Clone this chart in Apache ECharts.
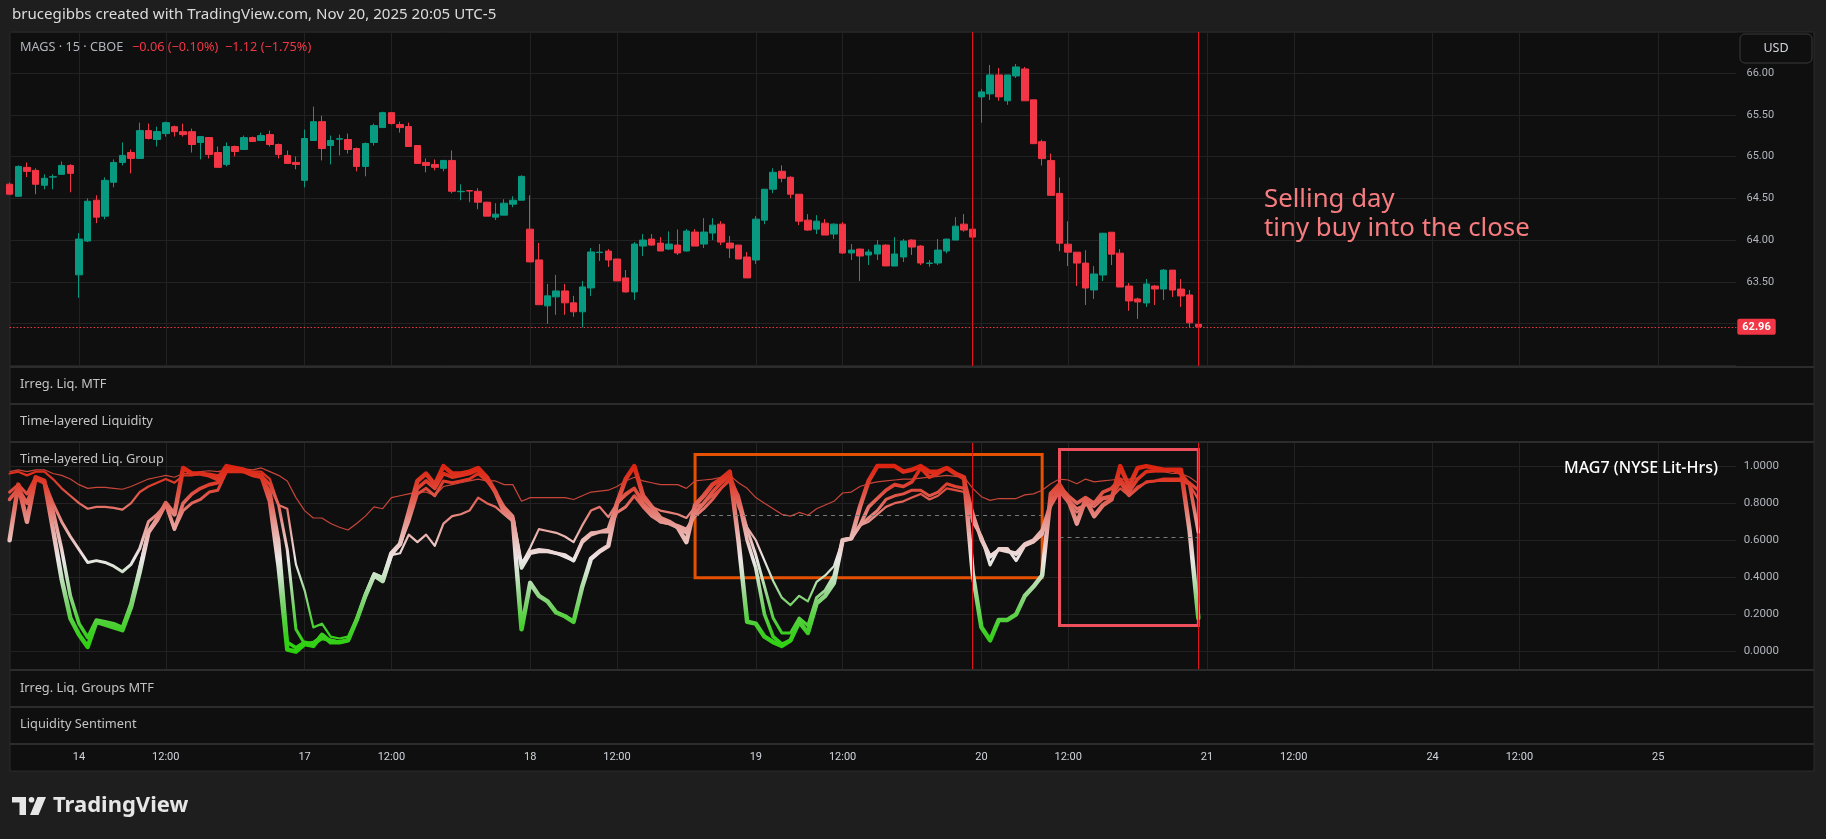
<!DOCTYPE html>
<html><head><meta charset="utf-8">
<script src="https://cdn.jsdelivr.net/npm/echarts@6/dist/echarts.min.js"></script>
<style>html,body{margin:0;padding:0;background:#1e1e1e;}#c{width:1826px;height:839px;}</style>
</head><body><div id="c"></div>
<script>
// ---------- time axis (15-minute bars, regular session) ----------
const sessionDays = ['13','14','17','18','19','20','21','24','25'];
const sessionFrom = [18,0,0,0,0,0,0,0,0];
const sessionTo   = [25,25,25,25,25,25,25,25,9];

// ---------- MAGS 15m OHLC ----------
const open = [64.67,64.525,64.872,64.836,64.657,64.755,64.788,64.895,63.583,63.988,
64.478,64.287,64.693,64.931,65.05,64.979,65.313,65.206,65.277,65.36,
65.3,65.3,65.17,65.23,65.05,64.907,65.122,65.086,65.229,65.194,
65.265,65.146,65.015,64.931,64.716,65.194,65.42,65.134,65.21,65.206,
65.098,64.883,65.17,65.349,65.528,65.385,65.361,65.134,64.931,64.907,
64.86,64.955,64.58,64.593,64.585,64.454,64.275,64.299,64.43,64.478,
64.131,63.762,63.211,63.319,63.39,63.247,63.14,63.426,63.85,63.868,
63.773,63.546,63.378,63.928,64.012,63.964,63.892,63.94,63.869,64.096,
63.952,64.084,64.191,63.964,63.94,63.797,63.761,64.239,64.61,64.825,
64.753,64.55,64.239,64.131,64.203,64.072,64.191,63.845,63.892,63.821,
63.833,63.94,63.689,63.797,64.0,63.928,63.72,63.725,63.869,64.0,
64.191,64.131,65.717,65.753,65.98,65.67,65.968,66.052,65.682,65.18,
64.953,64.56,63.951,63.855,63.724,63.402,63.581,64.094,63.843,63.449,
63.294,63.246,63.449,63.413,63.64,63.413,63.342,62.99];
const high = [64.69,64.895,64.93,64.86,64.788,64.788,64.943,64.91,64.084,64.5,
64.537,64.752,64.967,65.17,65.086,65.408,65.397,65.36,65.42,65.373,
65.397,65.337,65.241,65.23,65.122,65.17,65.134,65.253,65.241,65.289,
65.313,65.158,65.074,65.003,65.325,65.6,65.492,65.253,65.265,65.277,
65.11,65.17,65.397,65.54,65.528,65.42,65.408,65.134,64.979,64.967,
64.955,65.074,64.669,64.6,64.621,64.46,64.442,64.49,64.525,64.776,
64.537,63.965,63.474,63.582,63.474,63.331,63.51,63.904,63.952,63.892,
63.773,63.641,63.976,64.072,64.072,64.036,64.104,64.127,64.131,64.131,
64.263,64.263,64.227,64.048,63.94,63.857,64.287,64.61,64.861,64.896,
64.765,64.55,64.311,64.299,64.251,64.2,64.215,63.952,63.9,63.89,
64.0,63.95,64.036,64.012,64.01,63.94,63.76,64.012,64.012,64.275,
64.311,64.131,65.813,66.1,66.064,65.98,66.111,66.076,65.682,65.204,
65.037,64.75,64.225,63.855,63.879,63.688,64.082,64.094,63.891,63.485,
63.31,63.533,63.46,63.652,63.64,63.533,63.401,62.995];
const low = [64.54,64.52,64.756,64.55,64.609,64.609,64.788,64.573,63.308,63.976,
64.203,64.25,64.633,64.895,64.8,64.979,65.206,65.122,65.24,65.241,
65.241,65.05,64.967,64.979,64.872,64.883,65.003,65.086,65.176,65.194,
65.122,64.979,64.919,64.848,64.633,65.194,64.955,64.907,65.015,65.038,
64.824,64.764,65.134,65.349,65.385,65.289,65.122,64.919,64.812,64.836,
64.824,64.561,64.478,64.454,64.37,64.287,64.24,64.299,64.394,64.478,
63.738,63.225,62.996,63.104,63.104,63.08,62.952,63.33,63.749,63.677,
63.51,63.37,63.283,63.809,63.93,63.869,63.88,63.821,63.86,63.928,
63.904,64.0,63.94,63.785,63.773,63.546,63.713,64.191,64.562,64.693,
64.502,64.179,64.11,64.072,64.06,64.012,63.835,63.761,63.51,63.701,
63.761,63.69,63.689,63.737,63.821,63.701,63.68,63.701,63.84,64.0,
64.1,64.036,65.407,65.68,65.67,65.622,65.944,65.67,65.156,64.894,
64.536,63.867,63.688,63.449,63.222,63.294,63.509,63.7,63.437,63.151,
63.055,63.198,63.222,63.282,63.318,63.198,62.948,62.955];
const close = [64.55,64.883,64.824,64.669,64.74,64.76,64.895,64.80,64.012,64.466,
64.275,64.716,64.931,65.015,64.979,65.313,65.218,65.301,65.408,65.3,
65.265,65.146,65.241,65.027,64.872,65.122,65.062,65.229,65.182,65.253,
65.146,65.027,64.919,64.907,65.218,65.42,65.098,65.194,65.215,65.086,
64.883,65.158,65.373,65.528,65.397,65.349,65.122,64.919,64.895,64.872,
64.955,64.585,64.585,64.588,64.454,64.287,64.311,64.442,64.478,64.764,
63.738,63.225,63.331,63.39,63.247,63.14,63.438,63.857,63.855,63.761,
63.51,63.378,63.952,64.0,63.94,63.869,63.952,63.845,64.108,63.928,
64.096,64.179,63.976,63.904,63.773,63.546,64.251,64.61,64.813,64.741,
64.55,64.227,64.12,64.227,64.06,64.191,63.845,63.88,63.809,63.857,
63.94,63.69,63.833,63.988,63.916,63.725,63.725,63.88,64.012,64.167,
64.12,64.036,65.777,65.98,65.717,65.98,66.076,65.67,65.156,64.977,
64.536,63.963,63.855,63.724,63.425,63.593,64.082,63.831,63.437,63.27,
63.258,63.473,63.413,63.64,63.401,63.33,63.008,62.96];
const lastPrice = 62.96;

// ---------- Time-layered Liq. Group (MAG7) layers ----------
const layerFastest = [0.60,0.90,0.70,0.94,0.92,0.66,0.39,0.18,
0.09,0.025,0.16,0.145,0.13,0.115,0.24,0.43,0.645,0.71,0.80,0.74,
0.99,0.96,0.96,0.95,0.93,1.0,0.99,0.98,0.96,0.95,0.81,0.46,0.01,0.0,
0.04,0.03,0.09,0.05,0.05,0.06,0.17,0.30,0.41,0.38,0.53,0.58,
0.75,0.92,0.96,0.90,1.0,0.96,0.96,0.97,0.99,0.94,0.86,0.75,0.71,
0.12,0.37,0.30,0.27,0.21,0.19,0.16,0.35,0.50,0.54,0.57,
0.80,0.93,1.0,0.84,0.78,0.72,0.70,0.67,0.59,0.79,0.84,0.90,0.93,0.97,
0.60,0.16,0.15,0.08,0.05,0.03,0.06,0.16,0.10,0.26,0.30,0.37,0.60,0.61,0.78,0.92,
1.0,1.0,1.0,0.97,0.98,1.0,0.97,0.97,0.99,0.96,0.94,0.42,
0.13,0.06,0.17,0.17,0.20,0.30,0.35,0.41,
0.85,0.90,0.82,0.69,0.82,0.73,0.79,0.82,1.0,0.89,0.99,1.0,0.99,0.98,0.98,0.98,0.65,0.18];
const layerFast = [0.82,0.88,0.80,0.93,0.91,0.76,0.55,0.30,
0.15,0.075,0.17,0.16,0.15,0.13,0.26,0.45,0.64,0.72,0.80,0.66,
0.80,0.85,0.88,0.90,0.91,0.98,0.98,0.97,0.95,0.94,0.86,0.60,0.05,0.02,
0.05,0.04,0.07,0.06,0.05,0.06,0.17,0.30,0.41,0.38,0.52,0.58,
0.72,0.88,0.92,0.88,0.96,0.94,0.95,0.96,0.98,0.93,0.86,0.76,0.72,
0.45,0.53,0.54,0.54,0.53,0.52,0.49,0.59,0.63,0.645,0.66,
0.80,0.85,0.88,0.80,0.75,0.70,0.69,0.67,0.64,0.75,0.80,0.86,0.91,0.95,
0.82,0.60,0.45,0.20,0.08,0.04,0.06,0.16,0.10,0.26,0.30,0.38,0.60,0.61,0.68,0.78,
0.825,0.87,0.90,0.89,0.915,0.99,0.94,0.96,0.99,0.96,0.93,0.745,
0.60,0.51,0.55,0.54,0.53,0.58,0.60,0.655,
0.80,0.89,0.84,0.80,0.83,0.80,0.86,0.88,0.93,0.86,0.93,0.97,0.975,0.975,0.978,0.96,0.90,0.645];
const layerMid = [0.86,0.90,0.85,0.94,0.92,0.80,0.70,0.62,
0.55,0.48,0.49,0.48,0.46,0.43,0.47,0.555,0.70,0.74,0.79,0.66,
0.76,0.80,0.82,0.86,0.87,0.97,0.97,0.97,0.95,0.95,0.90,0.79,0.55,0.12,
0.04,0.05,0.08,0.06,0.05,0.06,0.17,0.31,0.42,0.40,0.53,0.58,
0.70,0.85,0.88,0.84,0.92,0.91,0.92,0.93,0.96,0.92,0.86,0.78,0.73,
0.475,0.54,0.55,0.545,0.53,0.51,0.49,0.60,0.64,0.645,0.645,
0.75,0.78,0.84,0.78,0.73,0.70,0.69,0.68,0.66,0.73,0.77,0.82,0.88,0.93,
0.84,0.66,0.52,0.35,0.18,0.10,0.10,0.18,0.14,0.29,0.33,0.41,0.60,0.61,0.68,0.72,
0.76,0.82,0.84,0.85,0.87,0.87,0.84,0.86,0.905,0.89,0.88,0.70,
0.62,0.466,0.556,0.556,0.49,0.57,0.59,0.63,
0.80,0.88,0.82,0.77,0.79,0.80,0.83,0.84,0.91,0.84,0.88,0.915,0.92,0.93,0.93,0.93,0.91,0.87];
const layerSlow = [0.96,0.97,0.95,0.97,0.97,0.93,0.88,0.84,
0.80,0.77,0.78,0.78,0.775,0.765,0.80,0.86,0.89,0.91,0.93,0.91,
0.95,0.95,0.96,0.96,0.95,0.98,0.98,0.975,0.97,0.97,0.93,0.79,0.77,0.47,
0.33,0.13,0.15,0.08,0.07,0.08,0.18,0.31,0.42,0.40,0.52,0.53,
0.63,0.59,0.63,0.57,0.69,0.73,0.74,0.76,0.83,0.80,0.78,0.74,0.70,
0.47,0.56,0.66,0.65,0.64,0.62,0.59,0.68,0.76,0.78,0.725,
0.80,0.84,0.88,0.82,0.78,0.76,0.75,0.74,0.72,0.78,0.80,0.84,0.88,0.92,
0.78,0.67,0.60,0.49,0.38,0.29,0.25,0.30,0.27,0.375,0.41,0.46,0.60,0.61,0.68,0.70,
0.74,0.78,0.80,0.81,0.83,0.85,0.82,0.84,0.88,0.87,0.86,0.74,
0.62,0.52,0.55,0.55,0.52,0.57,0.59,0.63,
0.78,0.86,0.80,0.75,0.80,0.78,0.82,0.83,0.88,0.84,0.89,0.91,0.92,0.92,0.92,0.92,0.90,0.82];
const layerSlowest = [0.97,0.98,0.97,0.98,0.98,0.96,0.95,0.93,
0.90,0.88,0.885,0.885,0.88,0.875,0.89,0.91,0.93,0.94,0.95,0.94,
0.96,0.96,0.97,0.975,0.97,0.98,0.985,0.985,0.98,0.99,0.97,0.95,0.92,0.83,
0.76,0.72,0.72,0.69,0.67,0.655,0.69,0.73,0.78,0.77,0.83,0.84,
0.85,0.86,0.86,0.84,0.89,0.90,0.91,0.92,0.93,0.92,0.92,0.90,0.90,
0.81,0.83,0.83,0.83,0.83,0.83,0.82,0.84,0.86,0.865,0.87,
0.89,0.92,0.94,0.92,0.91,0.90,0.90,0.90,0.88,0.92,0.925,0.93,0.94,0.95,
0.91,0.88,0.83,0.80,0.77,0.74,0.73,0.75,0.735,0.77,0.79,0.81,0.855,0.86,0.89,0.905,
0.915,0.92,0.925,0.93,0.93,0.935,0.94,0.945,0.95,0.945,0.94,0.88,
0.835,0.815,0.825,0.825,0.825,0.845,0.85,0.87,
0.905,0.93,0.925,0.905,0.93,0.915,0.92,0.925,0.93,0.93,0.935,0.97,0.97,0.97,0.96,0.96,0.94,0.906];

// ---------- drawings (bar index / value) ----------
const sessionMarks = [111, 137];
const boxFrom = [79, 121], boxTo = [119, 137], boxTop = [1.063, 1.09], boxBottom = [0.398, 0.14];
const dashFrom = [79, 121], dashTo = [119, 137], dashLevel = [0.735, 0.615];

// ---------- build categories ----------
const categories = [], axisText = [];
sessionDays.forEach((d, s) => {
  for (let k = sessionFrom[s]; k <= sessionTo[s]; k++) {
    const m = 570 + 15 * k;
    categories.push('Nov ' + d + ' ' + String(Math.floor(m / 60)).padStart(2, '0') + ':' + String(m % 60).padStart(2, '0'));
    axisText.push(k === 0 ? d : (k === 10 ? '12:00' : ''));
  }
});
const isMark = (i) => axisText[i] !== '';
const candles = open.map((o, i) => [o, close[i], low[i], high[i]]);

const FONT = 'Roboto, "Noto Sans", sans-serif';
const UI = '"Noto Sans", Roboto, sans-serif';
const GRID_C = '#222222';
const SEP = '#2c2c2c';
const chart = echarts.init(document.getElementById('c'), null, {renderer: 'canvas'});

const xBase = (gi, showLabels) => ({
  type: 'category', gridIndex: gi, data: categories, boundaryGap: false,
  axisLine: {show: false}, axisTick: {show: false},
  axisLabel: {show: showLabels, interval: (i) => isMark(i), formatter: (v, i) => axisText[i],
    color: '#d1d4dc', fontSize: 11, margin: 82, fontFamily: FONT},
  splitLine: {show: true, interval: (i) => isMark(i), lineStyle: {color: GRID_C, width: 1}}
});

const sepY = [367, 404, 442, 670, 707, 744];
const graphics = [
  {type: 'rect', z: -100, shape: {x: 10, y: 32, width: 1804, height: 739}, style: {fill: '#0f0f0f', stroke: '#2a2a2a', lineWidth: 1}},
  ...sepY.map(y => ({type: 'line', z: 100, shape: {x1: 10, y1: y, x2: 1814, y2: y}, style: {stroke: SEP, lineWidth: 2}})),
  {type: 'text', z: 100, x: 12, y: 15, style: {text: 'brucegibbs created with TradingView.com, Nov 20, 2025 20:05 UTC-5', fill: '#dcdcdc', font: '15.1px ' + UI, textVerticalAlign: 'middle'}},
  {type: 'text', z: 100, x: 20, y: 47, style: {text: 'MAGS · 15 · CBOE', fill: '#b2b5be', font: '12.7px ' + UI, textVerticalAlign: 'middle'}},
  {type: 'text', z: 100, x: 132, y: 47, style: {text: '\u22120.06 (\u22120.10%)  \u22121.12 (\u22121.75%)', fill: '#f23645', font: '12.7px ' + UI, textVerticalAlign: 'middle'}},
  {type: 'text', z: 100, x: 20, y: 384, style: {text: 'Irreg. Liq. MTF', fill: '#c3c3c3', font: '12.8px ' + UI, textVerticalAlign: 'middle'}},
  {type: 'text', z: 100, x: 20, y: 421, style: {text: 'Time-layered Liquidity', fill: '#c3c3c3', font: '12.8px ' + UI, textVerticalAlign: 'middle'}},
  {type: 'text', z: 100, x: 20, y: 459, style: {text: 'Time-layered Liq. Group', fill: '#c3c3c3', font: '12.8px ' + UI, textVerticalAlign: 'middle'}},
  {type: 'text', z: 100, x: 20, y: 688, style: {text: 'Irreg. Liq. Groups MTF', fill: '#c3c3c3', font: '12.8px ' + UI, textVerticalAlign: 'middle'}},
  {type: 'text', z: 100, x: 20, y: 724, style: {text: 'Liquidity Sentiment', fill: '#c3c3c3', font: '12.8px ' + UI, textVerticalAlign: 'middle'}},
  {type: 'text', z: 100, x: 1718, y: 468, style: {text: 'MAG7 (NYSE Lit-Hrs)', fill: '#ffffff', font: '500 16px ' + UI, textAlign: 'right', textVerticalAlign: 'middle'}},
  {type: 'text', z: 100, x: 1264, y: 200, style: {text: 'Selling day', fill: '#f77c80', font: '25.8px ' + UI, textVerticalAlign: 'middle'}},
  {type: 'text', z: 100, x: 1264, y: 229, style: {text: 'tiny buy into the close', fill: '#f77c80', font: '25.8px ' + UI, textVerticalAlign: 'middle'}},
  {type: 'rect', z: 100, shape: {x: 1740, y: 34, width: 72, height: 29, r: 5}, style: {fill: '#0f0f0f', stroke: '#3a3a3a', lineWidth: 1}},
  {type: 'text', z: 101, x: 1776, y: 48.5, style: {text: 'USD', fill: '#d1d4dc', font: '12.5px ' + UI, textAlign: 'center', textVerticalAlign: 'middle'}},
  // TradingView logo
  {type: 'rect', z: 100, shape: {x: 12, y: 797, width: 14, height: 5.5}, style: {fill: '#e6e6e6'}},
  {type: 'rect', z: 100, shape: {x: 19.5, y: 797, width: 6.5, height: 18}, style: {fill: '#e6e6e6'}},
  {type: 'circle', z: 100, shape: {cx: 31.5, cy: 799.8, r: 2.8}, style: {fill: '#e6e6e6'}},
  {type: 'polygon', z: 100, shape: {points: [[37.5, 797], [46, 797], [38.5, 815], [30, 815]]}, style: {fill: '#e6e6e6'}},
  {type: 'text', z: 100, x: 53, y: 806, style: {text: 'TradingView', fill: '#e6e6e6', font: 'bold 22px ' + UI, textVerticalAlign: 'middle'}}
];

const layerSeries = (name, data, width) => ({
  name, type: 'line', xAxisIndex: 1, yAxisIndex: 1, data, showSymbol: false, silent: true,
  lineStyle: {width, cap: 'round', join: 'round'}, emphasis: {disabled: true}
});

const option = {
  backgroundColor: '#1e1e1e',
  animation: false,
  textStyle: {fontFamily: FONT},
  grid: [
    {left: 9.6, right: 89.7, top: 32, height: 335},
    {left: 9.6, right: 89.7, top: 442, height: 228}
  ],
  xAxis: [xBase(0, false), xBase(1, true)],
  yAxis: [
    {type: 'value', gridIndex: 0, position: 'right', min: 62.478, max: 66.495, minInterval: 0.5, maxInterval: 0.5,
     axisLine: {show: false}, axisTick: {show: false},
     axisLabel: {showMinLabel: false, showMaxLabel: false, color: '#b2b5be', fontSize: 11, align: 'center', margin: 24,
       formatter: (v) => (v < 63.2 ? '' : v.toFixed(2))},
     splitLine: {lineStyle: {color: GRID_C}}},
    {type: 'value', gridIndex: 1, position: 'right', min: -0.1, max: 1.13, minInterval: 0.2, maxInterval: 0.2,
     axisLine: {show: false}, axisTick: {show: false},
     axisLabel: {showMinLabel: false, showMaxLabel: false, color: '#b2b5be', fontSize: 11.5, align: 'center', margin: 25,
       formatter: (v) => v.toFixed(4)},
     splitLine: {lineStyle: {color: GRID_C}}}
  ],
  visualMap: [{
    type: 'continuous', show: false, dimension: 1, seriesIndex: [2, 3, 4, 5], min: 0, max: 1,
    inRange: {color: ['#2bd00c', '#3ccf22', '#5ed24a', '#8fd585', '#c4e2c0', '#ece6e6', '#ebc0bc', '#e6958e', '#e2665b', '#de3f2f', '#dd2410']}
  }],
  series: [
    {
      type: 'candlestick', xAxisIndex: 0, yAxisIndex: 0, data: candles, barWidth: 7, clip: true, silent: true,
      itemStyle: {color: '#089981', color0: '#f23645', borderColor: '#089981', borderColor0: '#f23645', borderWidth: 1},
      markLine: {
        silent: true, symbol: ['none', 'none'], animation: false,
        data: [
          {yAxis: lastPrice, lineStyle: {color: '#f23645', type: [1.5, 2], width: 1},
           label: {show: true, position: 'end', distance: 1, formatter: lastPrice.toFixed(2), color: '#ffffff', fontWeight: 'bold', fontSize: 11,
             backgroundColor: '#f23645', padding: [3, 5, 2, 5], borderRadius: 2}},
          ...sessionMarks.map(i => ({xAxis: categories[i], lineStyle: {color: '#e3121b', width: 1, type: 'solid'}, label: {show: false}}))
        ]
      }
    },
    Object.assign(layerSeries('slowest', layerSlowest, 1.2), {
      lineStyle: {width: 1.2, color: '#d2493b', opacity: 0.95},
      markLine: {
        silent: true, symbol: ['none', 'none'], animation: false, label: {show: false},
        data: [
          ...sessionMarks.map(i => ({xAxis: categories[i], lineStyle: {color: '#e3121b', width: 1, type: 'solid'}})),
          ...dashLevel.map((v, k) => [{coord: [categories[dashFrom[k]], v], lineStyle: {color: '#7a7a7a', width: 1, type: [4, 4]}}, {coord: [categories[dashTo[k]], v]}])
        ]
      },
      markArea: {
        silent: true,
        data: [
          [{coord: [categories[boxFrom[0]], boxTop[0]], itemStyle: {color: 'rgba(0,0,0,0)', borderColor: '#e65100', borderWidth: 3}}, {coord: [categories[boxTo[0]], boxBottom[0]]}],
          [{coord: [categories[boxFrom[1]], boxTop[1]], itemStyle: {color: 'rgba(0,0,0,0)', borderColor: '#ee4f5d', borderWidth: 3}}, {coord: [categories[boxTo[1]], boxBottom[1]]}]
        ]
      }
    }),
    layerSeries('slow', layerSlow, 2.2),
    layerSeries('mid', layerMid, 3),
    layerSeries('fast', layerFast, 3.6),
    layerSeries('fastest', layerFastest, 4.5)
  ],
  graphic: graphics
};
chart.setOption(option);
</script></body></html>
